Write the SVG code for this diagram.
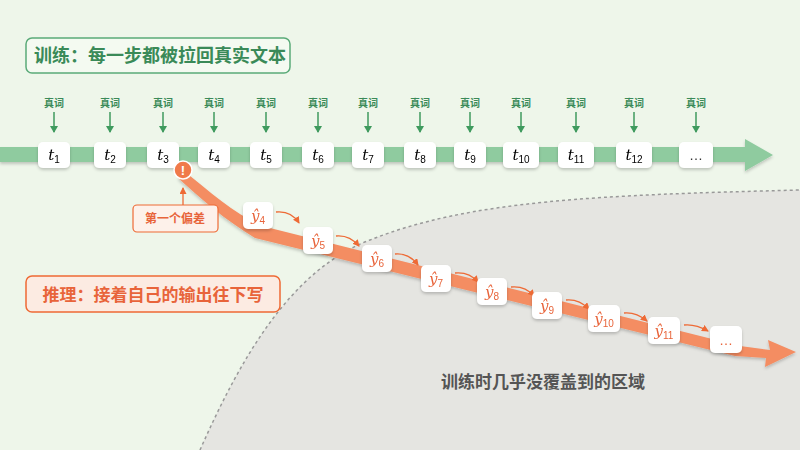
<svg xmlns="http://www.w3.org/2000/svg" width="800" height="450" viewBox="0 0 800 450">
<defs>
<style>
.lbl{font-family:"Noto Sans CJK SC","Liberation Sans",sans-serif;font-weight:bold}
.tk{font-family:"DejaVu Serif","Liberation Serif",serif;font-style:italic;font-size:15px}
.sub{font-size:10px;font-style:normal;font-family:"Liberation Sans",sans-serif}
.nb{fill:#fff;rx:5}
.ga{stroke:#3f9a5e;stroke-width:1.5;fill:none;marker-end:url(#ag)}
.oa{stroke:#ee6a35;stroke-width:1.3;fill:none;marker-end:url(#ao)}
</style>
<marker id="ag" markerWidth="8" markerHeight="8" refX="6" refY="4" orient="auto" markerUnits="userSpaceOnUse"><path d="M0,0L7,4L0,8Z" fill="#3f9a5e"/></marker>
<marker id="ao" markerWidth="7" markerHeight="7" refX="6" refY="3.5" orient="auto" markerUnits="userSpaceOnUse"><path d="M0,0L7,3.5L0,7Z" fill="#ee6a35"/></marker>
<filter id="sh" x="-30%" y="-30%" width="160%" height="170%"><feDropShadow dx="0" dy="2" stdDeviation="1.5" flood-color="#000" flood-opacity="0.2"/></filter>
</defs>
<rect width="800" height="450" fill="#eef6ea"/>
<path d="M200,450 C240,360 290,270 370,240 C470,200 600,195 800,190 L800,450Z" fill="#e5e5e1"/>
<path d="M200,450 C240,360 290,270 370,240 C470,200 600,195 800,190" fill="none" stroke="#999" stroke-width="1.5" stroke-dasharray="3,3"/>
<text class="lbl" x="543" y="388" font-size="17" fill="#555" text-anchor="middle">训练时几乎没覆盖到的区域</text>

<g id="title"><rect x="26" y="38" width="264" height="35" rx="6" fill="#f4faf1" stroke="#5aaa78" stroke-width="1.5"/><text class="lbl" x="160" y="62" font-size="18" fill="#3a8a58" text-anchor="middle">训练：每一步都被拉回真实文本</text></g>
<g id="infer"><rect x="26" y="276" width="254" height="36" rx="6" fill="#fcebe2" stroke="#ee6a35" stroke-width="1.5"/><text class="lbl" x="153" y="301" font-size="17" fill="#e8643a" text-anchor="middle">推理：接着自己的输出往下写</text></g>

<g id="connectors">
<path d="M0,147 H745 V139 L773,155 L745,171 V162 H0Z" fill="#8fcb9f" filter="url(#sh)"/>
<path d="M183,170 C210,192 232,212 262,226 L740,346 L770,350 L768,340 L796,352 L765,367 L766,358 L735,356 L255,238 C225,220 200,198 178,178Z" fill="#f48d62" filter="url(#sh)"/>
<g>
<path class="ga" d="M54,112V132"/><path class="ga" d="M110,112V132"/><path class="ga" d="M163,112V132"/><path class="ga" d="M214,112V132"/><path class="ga" d="M266,112V132"/><path class="ga" d="M318,112V132"/><path class="ga" d="M368,112V132"/><path class="ga" d="M420,112V132"/><path class="ga" d="M470,112V132"/><path class="ga" d="M521,112V132"/><path class="ga" d="M576,112V132"/><path class="ga" d="M634,112V132"/><path class="ga" d="M696,112V132"/>
</g>
<g fill="#3a8a58" font-size="10" class="lbl" text-anchor="middle">
<text x="54" y="107">真词</text><text x="110" y="107">真词</text><text x="163" y="107">真词</text><text x="214" y="107">真词</text><text x="266" y="107">真词</text><text x="318" y="107">真词</text><text x="368" y="107">真词</text><text x="420" y="107">真词</text><text x="470" y="107">真词</text><text x="521" y="107">真词</text><text x="576" y="107">真词</text><text x="634" y="107">真词</text><text x="696" y="107">真词</text>
</g>
<path class="oa" d="M276,212 C286,211 294,215 299,223"/>
<path class="oa" d="M336,236 C346,235 353,239 359,246"/>
<path class="oa" d="M395,254 C405,253 412,257 418,265"/>
<path class="oa" d="M455,273 C465,272 472,275 478,282"/>
<path class="oa" d="M511,287 C521,286 528,289 534,296"/>
<path class="oa" d="M566,300 C576,299 583,303 589,309"/>
<path class="oa" d="M624,313 C634,312 641,316 647,321"/>
<path class="oa" d="M684,325 C694,324 701,327 708,331"/>
<path class="oa" d="M183,218 V188"/>
</g>

<g id="t-nodes" filter="url(#sh)">
<g id="t1"><rect class="nb" x="38" y="142" width="32" height="26"/><text class="tk" x="54" y="160" text-anchor="middle">t<tspan class="sub" dy="3">1</tspan></text></g>
<g id="t2"><rect class="nb" x="94" y="142" width="32" height="26"/><text class="tk" x="110" y="160" text-anchor="middle">t<tspan class="sub" dy="3">2</tspan></text></g>
<g id="t3"><rect class="nb" x="147" y="142" width="32" height="26"/><text class="tk" x="163" y="160" text-anchor="middle">t<tspan class="sub" dy="3">3</tspan></text></g>
<g id="t4"><rect class="nb" x="198" y="142" width="32" height="26"/><text class="tk" x="214" y="160" text-anchor="middle">t<tspan class="sub" dy="3">4</tspan></text></g>
<g id="t5"><rect class="nb" x="250" y="142" width="32" height="26"/><text class="tk" x="266" y="160" text-anchor="middle">t<tspan class="sub" dy="3">5</tspan></text></g>
<g id="t6"><rect class="nb" x="302" y="142" width="32" height="26"/><text class="tk" x="318" y="160" text-anchor="middle">t<tspan class="sub" dy="3">6</tspan></text></g>
<g id="t7"><rect class="nb" x="352" y="142" width="32" height="26"/><text class="tk" x="368" y="160" text-anchor="middle">t<tspan class="sub" dy="3">7</tspan></text></g>
<g id="t8"><rect class="nb" x="404" y="142" width="32" height="26"/><text class="tk" x="420" y="160" text-anchor="middle">t<tspan class="sub" dy="3">8</tspan></text></g>
<g id="t9"><rect class="nb" x="454" y="142" width="32" height="26"/><text class="tk" x="470" y="160" text-anchor="middle">t<tspan class="sub" dy="3">9</tspan></text></g>
<g id="t10"><rect class="nb" x="503" y="142" width="36" height="26"/><text class="tk" x="521" y="160" text-anchor="middle">t<tspan class="sub" dy="3">10</tspan></text></g>
<g id="t11"><rect class="nb" x="558" y="142" width="36" height="26"/><text class="tk" x="576" y="160" text-anchor="middle">t<tspan class="sub" dy="3">11</tspan></text></g>
<g id="t12"><rect class="nb" x="616" y="142" width="36" height="26"/><text class="tk" x="634" y="160" text-anchor="middle">t<tspan class="sub" dy="3">12</tspan></text></g>
<g id="tdots"><rect class="nb" x="679" y="142" width="34" height="26"/><text x="696" y="160" font-family="Liberation Sans,sans-serif" font-size="14" fill="#333" text-anchor="middle">…</text></g>
</g>

<g id="warn"><circle cx="183" cy="170" r="9" fill="#f07a4a" stroke="#fff" stroke-width="1.5"/><text x="183" y="175" font-family="Liberation Sans,sans-serif" font-weight="bold" font-size="13" fill="#fff" text-anchor="middle">!</text></g>
<g id="callout"><rect x="133" y="205" width="85" height="27" rx="4" fill="#fdf1ea" stroke="#ee6a35" stroke-width="1.2"/><text class="lbl" x="175" y="223" font-size="12" fill="#e8643a" text-anchor="middle">第一个偏差</text></g>

<g id="y-nodes" filter="url(#sh)" fill="#e8643a">
<g id="y4"><rect class="nb" x="243" y="202" width="30" height="27"/><text class="tk" x="258" y="221" text-anchor="middle">ŷ<tspan class="sub" dy="3">4</tspan></text></g>
<g id="y5"><rect class="nb" x="303" y="227" width="30" height="27"/><text class="tk" x="318" y="246" text-anchor="middle">ŷ<tspan class="sub" dy="3">5</tspan></text></g>
<g id="y6"><rect class="nb" x="362" y="245" width="30" height="27"/><text class="tk" x="377" y="264" text-anchor="middle">ŷ<tspan class="sub" dy="3">6</tspan></text></g>
<g id="y7"><rect class="nb" x="421" y="265" width="30" height="27"/><text class="tk" x="436" y="284" text-anchor="middle">ŷ<tspan class="sub" dy="3">7</tspan></text></g>
<g id="y8"><rect class="nb" x="477" y="278" width="30" height="27"/><text class="tk" x="492" y="297" text-anchor="middle">ŷ<tspan class="sub" dy="3">8</tspan></text></g>
<g id="y9"><rect class="nb" x="532" y="292" width="30" height="27"/><text class="tk" x="547" y="311" text-anchor="middle">ŷ<tspan class="sub" dy="3">9</tspan></text></g>
<g id="y10"><rect class="nb" x="588" y="305" width="32" height="27"/><text class="tk" x="604" y="324" text-anchor="middle">ŷ<tspan class="sub" dy="3">10</tspan></text></g>
<g id="y11"><rect class="nb" x="648" y="317" width="32" height="27"/><text class="tk" x="664" y="336" text-anchor="middle">ŷ<tspan class="sub" dy="3">11</tspan></text></g>
<g id="ydots"><rect class="nb" x="710" y="326" width="32" height="27"/><text x="726" y="345" font-family="Liberation Sans,sans-serif" font-size="14" text-anchor="middle">…</text></g>
</g>
</svg>
